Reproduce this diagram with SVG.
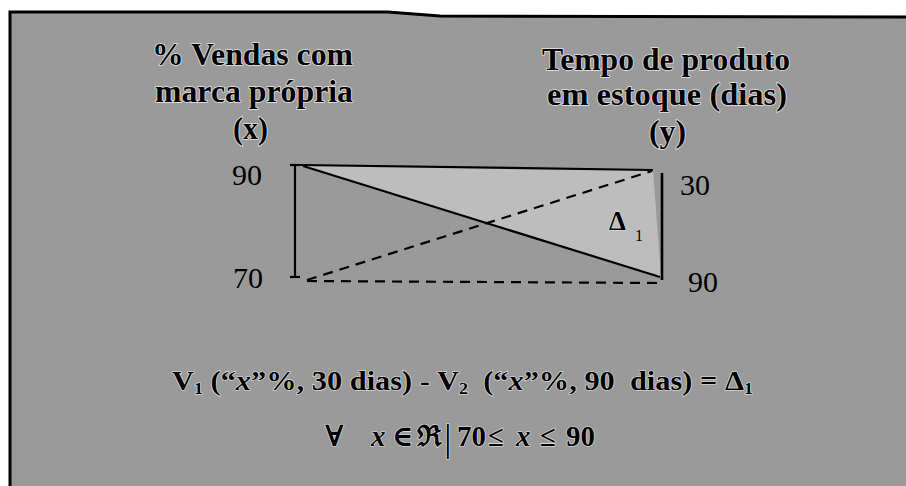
<svg xmlns="http://www.w3.org/2000/svg" width="906" height="486" viewBox="0 0 906 486">
  <style>
    .title { font-family: "Liberation Serif", "Times New Roman", serif; font-weight: bold; font-size: 31px; fill: #000; stroke: #e6e6e6; stroke-width: 1.5px; paint-order: stroke; }
    .num { font-family: "Liberation Serif", "Times New Roman", serif; font-size: 30px; fill: #000; }
    .eq { font-family: "Liberation Serif", "Times New Roman", "DejaVu Serif", serif; font-weight: bold; font-size: 27px; fill: #000; stroke: #e6e6e6; stroke-width: 1.2px; paint-order: stroke; }
    .it { font-style: italic; }
    .sub { font-size: 16px; }
    .axis { stroke: #000; stroke-width: 2.2; fill: none; }
    .dash { stroke: #000; stroke-width: 2.2; fill: none; stroke-dasharray: 10 7; }
  </style>
  <rect x="0" y="0" width="906" height="486" fill="#ffffff"/>
  <polygon points="10,12 388,12 440,16 906,17 906,486 10,486" fill="#9a9a9a"/>
  <polyline points="10,486 10,12 388,12 440,16 906,17" fill="none" stroke="#000" stroke-width="3"/>

  <g id="title-x">
    <text class="title" x="152" y="65" textLength="201" lengthAdjust="spacingAndGlyphs">% Vendas com</text>
    <text class="title" x="155" y="102" textLength="198" lengthAdjust="spacingAndGlyphs">marca própria</text>
    <text class="title" x="233" y="139" textLength="35" lengthAdjust="spacingAndGlyphs">(x)</text>
  </g>
  <g id="title-y">
    <text class="title" x="542" y="70" textLength="248" lengthAdjust="spacingAndGlyphs">Tempo de produto</text>
    <text class="title" x="547" y="105" textLength="240" lengthAdjust="spacingAndGlyphs">em estoque (dias)</text>
    <text class="title" x="649" y="142" textLength="37" lengthAdjust="spacingAndGlyphs">(y)</text>
  </g>

  <g id="chart-area">
    <polygon points="300,165 653,170 661,277" fill="#bdbdbd"/>
  </g>

  <g id="axis-x">
    <line class="axis" x1="295" y1="165" x2="295" y2="277"/>
    <line class="axis" x1="290" y1="165" x2="300" y2="165"/>
    <line class="axis" x1="290" y1="277" x2="300" y2="277"/>
    <text class="num" x="232" y="185">90</text>
    <text class="num" x="233" y="288">70</text>
  </g>
  <g id="axis-y">
    <line class="axis" x1="662" y1="173" x2="662" y2="280" style="stroke-width:2.6"/>
    <text class="num" x="680" y="195">30</text>
    <text class="num" x="688" y="292">90</text>
  </g>

  <g id="connectors">
    <line class="axis" x1="300" y1="165" x2="653" y2="170"/>
    <line class="axis" x1="303" y1="166" x2="660" y2="277"/>
    <line class="dash" x1="307" y1="280" x2="652" y2="171"/>
    <line class="dash" x1="307" y1="281" x2="660" y2="283"/>
  </g>

  <g id="delta-label">
    <text class="eq" x="609" y="230">Δ</text>
    <text x="635" y="241" style="font-family:'Liberation Serif',serif;font-size:16px;fill:#000">1</text>
  </g>

  <g id="equation">
    <text class="eq" x="172" y="390" textLength="581" lengthAdjust="spacingAndGlyphs" xml:space="preserve">V<tspan class="sub" dy="4">1</tspan><tspan dy="-4"> (“</tspan><tspan class="it">x</tspan>”%, 30 dias) - V<tspan class="sub" dy="4">2</tspan><tspan dy="-4">  (“</tspan><tspan class="it">x</tspan>”%, 90  dias) = Δ<tspan class="sub" dy="4">1</tspan></text>
  </g>
  <g id="condition">
    <text class="eq" y="446" style="font-size:29px"><tspan x="325">∀</tspan><tspan x="371" class="it">x</tspan><tspan x="392">∈</tspan><tspan x="417">ℜ</tspan></text>
    <text class="eq" x="444" y="451" style="font-size:38px;font-weight:normal">|</text>
    <text class="eq" y="446" style="font-size:29px"><tspan x="457">70</tspan><tspan x="488">≤</tspan><tspan x="516" class="it">x</tspan><tspan x="540">≤</tspan><tspan x="566">90</tspan></text>
  </g>
</svg>
